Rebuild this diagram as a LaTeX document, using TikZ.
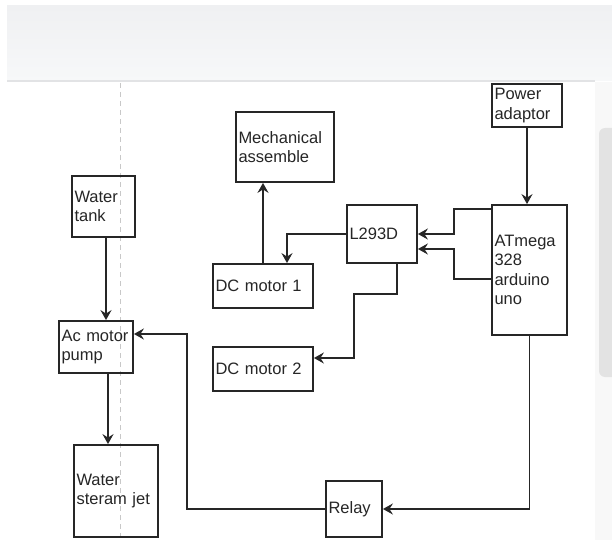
\documentclass[tikz,border=0pt]{standalone}
\usepackage{fontspec}
\setmainfont{Liberation Sans}
\usetikzlibrary{arrows.meta}
\definecolor{bandtop}{HTML}{EFF0F2}
\definecolor{bandbot}{HTML}{F7F8F9}
\definecolor{rule}{HTML}{E2E3E5}
\definecolor{guide}{HTML}{C8C8C8}
\definecolor{thumb}{HTML}{E3E3E3}
\definecolor{track}{HTML}{F8F8F8}
\definecolor{ink}{HTML}{262626}
\tikzset{
  blk/.style={draw=ink, line width=1.8pt, inner xsep=2.5pt, inner ysep=0pt,
    align=left, font=\fontsize{16.5}{19.5}\selectfont, text=ink},
  arr/.style={draw=ink, line width=1.8pt,
    -{Stealth[length=10pt,width=11pt,inset=3.5pt]}}
}
\begin{document}
\begin{tikzpicture}[x=1pt,y=-1pt]
  % page and browser chrome
  \useasboundingbox (0,0) rectangle (612,540);
  \fill[white] (0,0) rectangle (612,540);
  \shade[top color=bandtop, bottom color=bandbot] (7,6) rectangle (612,81);
  \draw[rule, line width=1.5pt] (7,81) -- (595,81);
  \fill[track] (595,82) rectangle (612,540);
  \fill[thumb, rounded corners=6pt] (599,128) rectangle (620,377);
  \draw[guide, line width=1pt, dash pattern=on 5pt off 4pt] (120,83) -- (120,540);

  % blocks
  \node[blk, minimum width=70pt, minimum height=43pt, text width=65pt] (pwr) at (527,105.5) {Power\\adaptor};
  \node[blk, minimum width=75pt, minimum height=130pt, text width=70pt] (atm) at (529.5,270) {ATmega\\328\\arduino\\uno};
  \node[blk, minimum width=70pt, minimum height=58pt, text width=65pt] (l293) at (382,234) {L293D};
  \node[blk, minimum width=98pt, minimum height=70pt, text width=93pt] (mech) at (285,147) {Mechanical\\assemble};
  \node[blk, minimum width=100pt, minimum height=44pt, text width=95pt] (dc1) at (263,286) {DC motor 1};
  \node[blk, minimum width=100pt, minimum height=44pt, text width=95pt] (dc2) at (263,369) {DC motor 2};
  \node[blk, minimum width=56pt, minimum height=56pt, text width=51pt] (relay) at (354,509) {Relay};
  \node[blk, minimum width=63pt, minimum height=61pt, text width=58pt] (tank) at (103.5,206.5) {Water\\tank};
  \node[blk, minimum width=74pt, minimum height=52pt, text width=69pt] (pump) at (96,347) {Ac motor\\pump};
  \node[blk, minimum width=84pt, minimum height=92pt, text width=79pt] (jet) at (116,491) {Water\\steram jet};

  % connections
  \draw[arr] (pwr.south) -- (pwr.south |- atm.north);
  \draw[arr] ([yshift=-5pt]atm.north west) -- ++(-37,0) |- (l293.east);
  \draw[arr] ([yshift=57pt]atm.south west) -- ++(-37,0) |- ([yshift=-15pt]l293.east);
  \draw[arr] (l293.west) -| ([xshift=24pt]dc1.north);
  \draw[arr] (dc1.north) -- (dc1.north |- mech.south);
  \draw[arr] ([xshift=15pt]l293.south) -- ++(0,30) -- ++(-43,0) |- ([yshift=11pt]dc2.east);
  \draw[arr] (atm.south) |- (relay.east);
  \draw[arr] (relay.west) -- ++(-138,0) |- ([yshift=13pt]pump.east);
  \draw[arr] ([xshift=2.5pt]tank.south) -- ([xshift=2.5pt]tank.south |- pump.north);
  \draw[arr] ([xshift=12pt]pump.south) -- ([xshift=12pt]pump.south |- jet.north);
\end{tikzpicture}
\end{document}
